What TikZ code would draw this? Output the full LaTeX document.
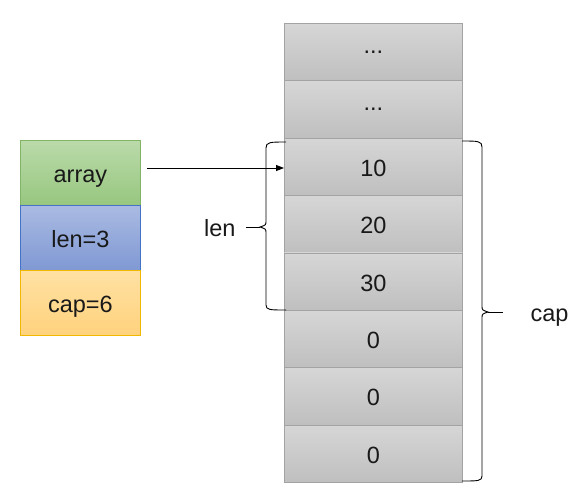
\documentclass[tikz,border=0pt]{standalone}
\usepackage{fontspec}
\setmainfont{Liberation Sans}
\usetikzlibrary{arrows.meta}
\definecolor{cellTop}{HTML}{D6D6D6}
\definecolor{cellBot}{HTML}{BFBFBF}
\definecolor{cellLine}{HTML}{A3A3A3}
\definecolor{gTop}{HTML}{BADAAA}
\definecolor{gBot}{HTML}{97C77F}
\definecolor{gLine}{HTML}{82B366}
\definecolor{bTop}{HTML}{AABAE2}
\definecolor{bBot}{HTML}{7F99D4}
\definecolor{bLine}{HTML}{4472C4}
\definecolor{oTop}{HTML}{FFE1A3}
\definecolor{oBot}{HTML}{FFD27D}
\definecolor{oLine}{HTML}{F2B800}
\tikzset{
  txt/.style={font=\fontsize{23.5}{27}\selectfont, text=black!90, text height=22pt, text depth=3pt},
  cell/.style={txt, draw=cellLine, line width=0.9pt, top color=cellTop, bottom color=cellBot,
    minimum width=178pt, minimum height=57.375pt, inner sep=0pt, anchor=north west},
  hdr/.style={txt, line width=0.9pt, minimum width=120pt, minimum height=65pt, inner sep=0pt, anchor=north west},
  brace/.style={draw=black, line width=0.9pt},
}
\newcommand{\middots}{\raisebox{8.5pt}{...}}
\begin{document}
\begin{tikzpicture}[x=1pt,y=-1pt]
\useasboundingbox (0,0) rectangle (583,501);
% memory column
\node[cell] (c1) at (284,23) {\middots};
\node[cell] (c2) at (284,80.375) {\middots};
\node[cell] (c3) at (284,137.75) {10};
\node[cell] (c4) at (284,195.125) {20};
\node[cell] (c5) at (284,252.5) {30};
\node[cell] (c6) at (284,309.875) {0};
\node[cell] (c7) at (284,367.25) {0};
\node[cell] (c8) at (284,424.625) {0};
% slice header
\node[hdr, draw=gLine, top color=gTop, bottom color=gBot] (arr) at (20,140) {array};
\node[hdr, draw=bLine, top color=bTop, bottom color=bBot] (len) at (20,205) {len=3};
\node[hdr, draw=oLine, top color=oTop, bottom color=oBot] (cap) at (20,270) {cap=6};
% pointer
\coordinate (ps) at (147,168);
\draw[line width=0.9pt, -{Triangle[length=8pt,width=6pt]}] (ps) -- (ps -| c3.west);
% len brace
\draw[brace] (286,142) .. controls (270,142) and (266,142) .. (266,148)
  -- (266,221) .. controls (266,225) .. (260,227)
  .. controls (266,229) .. (266,233)
  -- (266,305) .. controls (266,310) and (270,310) .. (286,310);
\coordinate (lt) at (260,227);
\coordinate (ls) at (246,227);
\draw[brace] (ls) -- (lt);
\node[txt, anchor=east] (lenlbl) at (239,227) {len};
% cap brace
\draw[brace] (462,141) .. controls (478,141) and (482,141) .. (482,147)
  -- (482,306) .. controls (482,310) .. (488,312)
  .. controls (482,314) .. (482,318)
  -- (482,476) .. controls (482,481) and (478,481) .. (462,481);
\coordinate (ct) at (488,312);
\coordinate (ce) at (503,312);
\draw[brace] (ct) -- (ce);
\node[txt, anchor=west] (caplbl) at (527,312) {cap};
\end{tikzpicture}
\end{document}
